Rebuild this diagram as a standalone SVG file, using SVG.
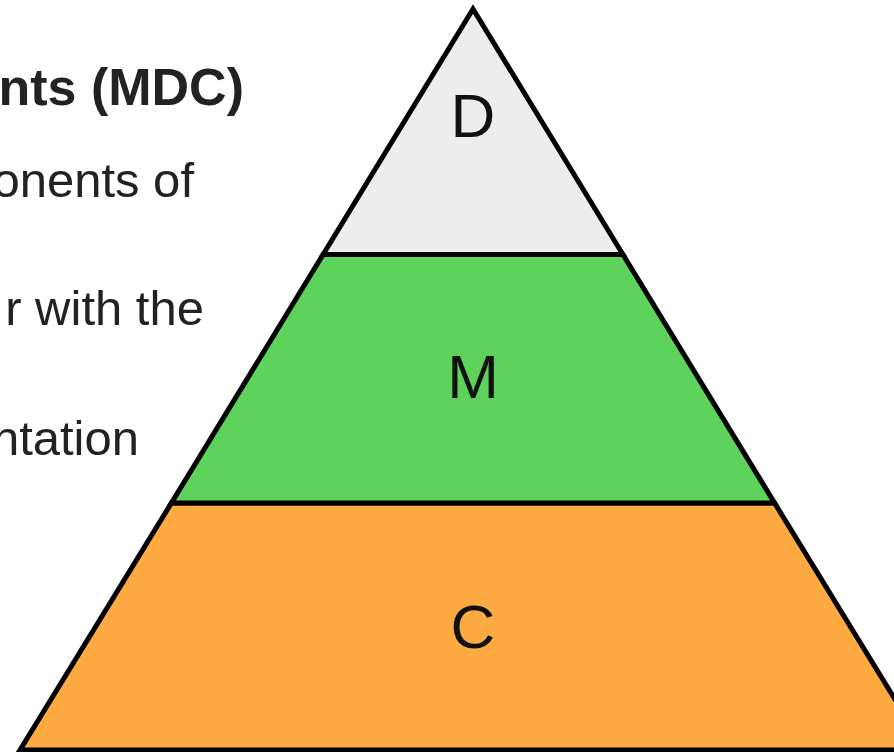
<svg xmlns="http://www.w3.org/2000/svg" width="894" height="752" viewBox="0 0 894 752">
  <style>
    .tier { stroke: #000; stroke-width: 5; stroke-linejoin: miter; stroke-miterlimit: 10; }
    .lbl { font-family: "Liberation Sans", Arial, sans-serif; font-size: 62px; fill: #111; text-anchor: middle; }
    .body { font-family: "Liberation Sans", Arial, sans-serif; font-size: 49px; fill: #222; text-anchor: end; }
    .title { font-family: "Liberation Sans", Arial, sans-serif; font-size: 52px; font-weight: bold; fill: #222; text-anchor: end; }
  </style>
  <rect width="894" height="752" fill="#fff"/>
  <g id="side-text">
    <text class="title" x="244" y="105">nts (MDC)</text>
    <text class="body" x="194" y="197">onents of</text>
    <text class="body" x="204" y="325">r with the</text>
    <text class="body" x="139" y="455">ntation</text>
  </g>
  <g id="tier-c">
    <polygon class="tier" fill="#FDAA43" points="171.4,503 774.6,503 926,750 20,750"/>
    <text class="lbl" x="473" y="648">C</text>
  </g>
  <g id="tier-m">
    <polygon class="tier" fill="#5DD35B" points="323.1,254.5 622.9,254.5 774.6,503 171.4,503"/>
    <text class="lbl" x="473" y="398">M</text>
  </g>
  <g id="tier-d">
    <polygon class="tier" fill="#EDEDED" points="473,9 622.9,254.5 323.1,254.5"/>
    <text class="lbl" x="473" y="137">D</text>
  </g>
  <g id="connectors"></g>
</svg>
